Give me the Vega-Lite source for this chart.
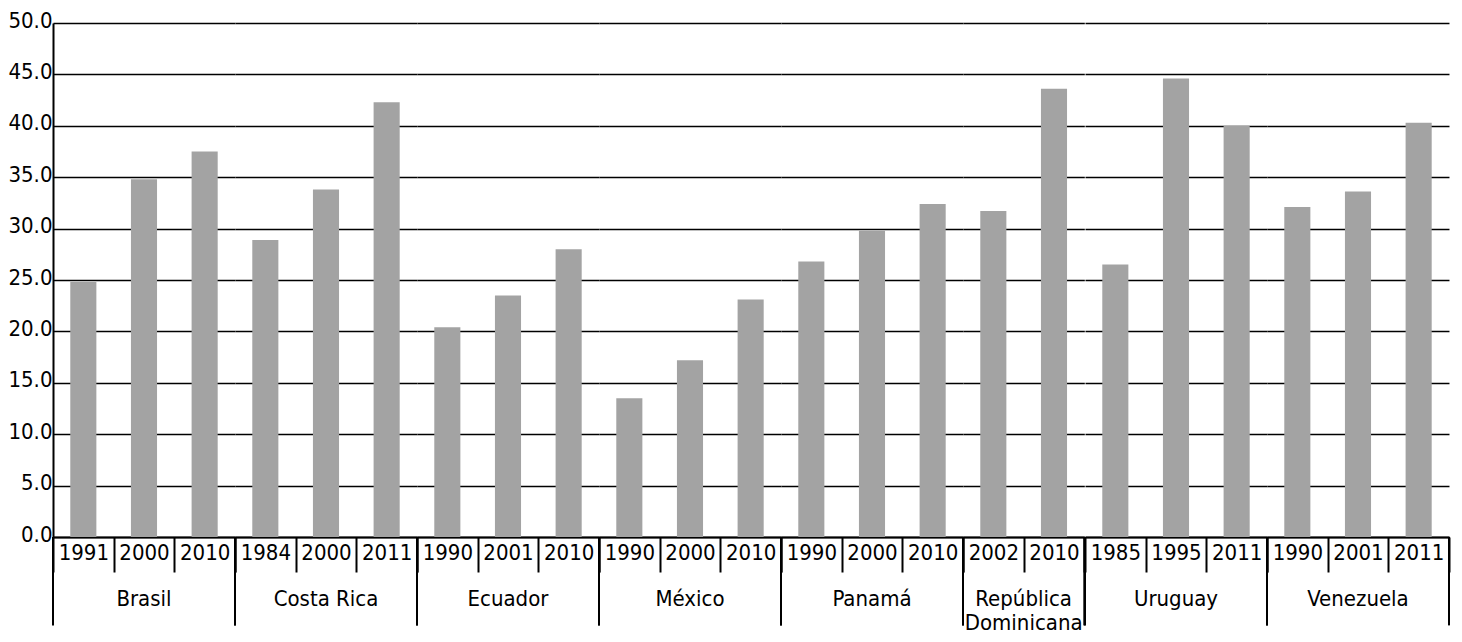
{
  "$schema": "https://vega.github.io/schema/vega-lite/v6.json",
  "padding": {"left": 7, "top": 9, "right": 12, "bottom": 2},
  "data": {"values": [
    {"country": "Brasil", "year": 1991, "value": 24.8},
    {"country": "Brasil", "year": 2000, "value": 34.8},
    {"country": "Brasil", "year": 2010, "value": 37.5},
    {"country": "Costa Rica", "year": 1984, "value": 28.9},
    {"country": "Costa Rica", "year": 2000, "value": 33.8},
    {"country": "Costa Rica", "year": 2011, "value": 42.3},
    {"country": "Ecuador", "year": 1990, "value": 20.4},
    {"country": "Ecuador", "year": 2001, "value": 23.5},
    {"country": "Ecuador", "year": 2010, "value": 28.0},
    {"country": "México", "year": 1990, "value": 13.5},
    {"country": "México", "year": 2000, "value": 17.2},
    {"country": "México", "year": 2010, "value": 23.1},
    {"country": "Panamá", "year": 1990, "value": 26.8},
    {"country": "Panamá", "year": 2000, "value": 29.8},
    {"country": "Panamá", "year": 2010, "value": 32.4},
    {"country": "República Dominicana", "year": 2002, "value": 31.7},
    {"country": "República Dominicana", "year": 2010, "value": 43.6},
    {"country": "Uruguay", "year": 1985, "value": 26.5},
    {"country": "Uruguay", "year": 1995, "value": 44.6},
    {"country": "Uruguay", "year": 2011, "value": 40.0},
    {"country": "Venezuela", "year": 1990, "value": 32.1},
    {"country": "Venezuela", "year": 2001, "value": 33.6},
    {"country": "Venezuela", "year": 2011, "value": 40.3}
  ]},
  "facet": {
    "column": {
      "field": "country",
      "type": "nominal",
      "sort": ["Brasil", "Costa Rica", "Ecuador", "México", "Panamá", "República Dominicana", "Uruguay", "Venezuela"],
      "title": null,
      "header": {
        "labelOrient": "bottom",
        "labelFontSize": 22,
        "labelFont": "DejaVu Sans Condensed, sans-serif",
        "labelColor": "black",
        "labelBaseline": "top",
        "labelPadding": 52,
        "labelLineHeight": 24,
        "labelExpr": "datum.value == 'República Dominicana' ? ['República', 'Dominicana'] : datum.value"
      }
    }
  },
  "spacing": 0,
  "bounds": "flush",
  "resolve": {"scale": {"x": "independent"}},
  "spec": {
    "width": {"step": 60.66},
    "height": 514,
    "layer": [
      {
        "mark": {"type": "bar", "color": "#a3a3a3", "width": {"band": 0.43}},
        "encoding": {
          "x": {
            "field": "year",
            "type": "ordinal",
            "title": null,
            "scale": {"paddingInner": 0, "paddingOuter": 0},
            "axis": {
              "labelAngle": 0,
              "tickBand": "extent",
              "tickSize": 35,
              "tickColor": "black",
              "tickWidth": 2,
              "domainColor": "black",
              "domainWidth": 2,
              "labelPadding": -30,
              "labelBaseline": "top",
              "labelFontSize": 22,
              "labelColor": "black",
              "labelFont": "DejaVu Sans Condensed, sans-serif",
              "grid": false
            }
          },
          "y": {
            "field": "value",
            "type": "quantitative",
            "title": null,
            "scale": {"domain": [0, 50], "nice": false},
            "axis": {
              "values": [0, 5, 10, 15, 20, 25, 30, 35, 40, 45, 50],
              "format": ".1f",
              "ticks": false,
              "labelPadding": 1,
              "labelFontSize": 22,
              "labelColor": "black",
              "labelFont": "DejaVu Sans Condensed, sans-serif",
              "labelOffset": -3,
              "domainColor": "black",
              "domainWidth": 2,
              "grid": true,
              "gridColor": "black",
              "gridOpacity": 1,
              "gridWidth": 1.3
            }
          }
        }
      },
      {
        "transform": [
          {"joinaggregate": [{"op": "min", "field": "year", "as": "firstYear"}], "groupby": ["country"]},
          {"filter": "datum.year == datum.firstYear"}
        ],
        "mark": {"type": "rule", "color": "black", "strokeWidth": 2, "clip": false},
        "encoding": {
          "x": {"field": "year", "type": "ordinal", "bandPosition": 0},
          "y": {"datum": 0, "type": "quantitative"},
          "y2": {"datum": -8.6}
        }
      },
      {
        "transform": [
          {"joinaggregate": [{"op": "max", "field": "year", "as": "lastYear"}], "groupby": ["country"]},
          {"filter": "datum.year == datum.lastYear"}
        ],
        "mark": {"type": "rule", "color": "black", "strokeWidth": 2, "clip": false},
        "encoding": {
          "x": {"field": "year", "type": "ordinal", "bandPosition": 1},
          "y": {"datum": 0, "type": "quantitative"},
          "y2": {"datum": -8.6}
        }
      }
    ]
  },
  "config": {"view": {"stroke": null}}
}
